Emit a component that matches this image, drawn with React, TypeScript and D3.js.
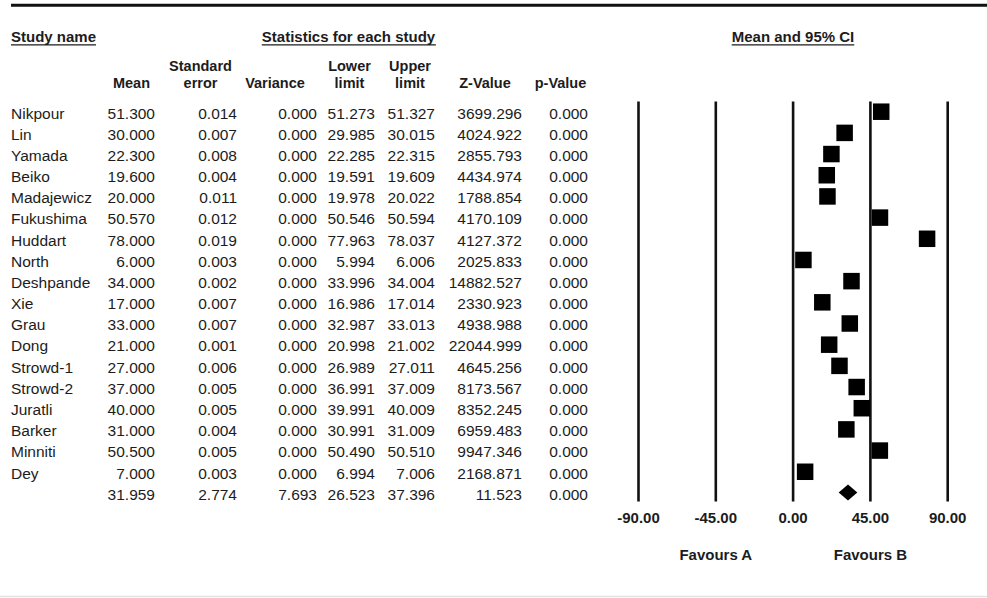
import React, { useEffect, useRef } from 'react';
import * as d3 from 'd3';

const studies = ['Nikpour', 'Lin', 'Yamada', 'Beiko', 'Madajewicz', 'Fukushima', 'Huddart', 'North', 'Deshpande', 'Xie', 'Grau', 'Dong', 'Strowd-1', 'Strowd-2', 'Juratli', 'Barker', 'Minniti', 'Dey'];
const means = [51.3, 30.0, 22.3, 19.6, 20.0, 50.57, 78.0, 6.0, 34.0, 17.0, 33.0, 21.0, 27.0, 37.0, 40.0, 31.0, 50.5, 7.0];
const stdErrors = [0.014, 0.007, 0.008, 0.004, 0.011, 0.012, 0.019, 0.003, 0.002, 0.007, 0.007, 0.001, 0.006, 0.005, 0.005, 0.004, 0.005, 0.003];
const variances = [0, 0, 0, 0, 0, 0, 0, 0, 0, 0, 0, 0, 0, 0, 0, 0, 0, 0];
const lowerLimits = [51.273, 29.985, 22.285, 19.591, 19.978, 50.546, 77.963, 5.994, 33.996, 16.986, 32.987, 20.998, 26.989, 36.991, 39.991, 30.991, 50.49, 6.994];
const upperLimits = [51.327, 30.015, 22.315, 19.609, 20.022, 50.594, 78.037, 6.006, 34.004, 17.014, 33.013, 21.002, 27.011, 37.009, 40.009, 31.009, 50.51, 7.006];
const zValues = [3699.296, 4024.922, 2855.793, 4434.974, 1788.854, 4170.109, 4127.372, 2025.833, 14882.527, 2330.923, 4938.988, 22044.999, 4645.256, 8173.567, 8352.245, 6959.483, 9947.346, 2168.871];
const pValues = [0, 0, 0, 0, 0, 0, 0, 0, 0, 0, 0, 0, 0, 0, 0, 0, 0, 0];

// pooled row
const summary = { mean: 31.959, se: 2.774, variance: 7.693, lower: 26.523, upper: 37.396, z: 11.523, p: 0.0 };

const xTicks = [-90, -45, 0, 45, 90];

const FONT = '"Liberation Sans", Arial, sans-serif';

const App: React.FC = () => {
  const svgRef = useRef<SVGSVGElement>(null);

  useEffect(() => {
    if (!svgRef.current) return;
    const svg = d3.select(svgRef.current);
    svg.selectAll('*').remove();

    const textColor = '#1c1c1c';
    const rowBase = 118.5;
    const rowStep = 21.18;
    const rowY = (i: number) => rowBase + i * rowStep;

    // top rule and bottom faint rule
    svg.append('line').attr('x1', 11).attr('x2', 987).attr('y1', 5.3).attr('y2', 5.3)
      .attr('stroke', '#111').attr('stroke-width', 3);
    svg.append('line').attr('x1', 0).attr('x2', 987).attr('y1', 596.5).attr('y2', 596.5)
      .attr('stroke', '#e2e2e2').attr('stroke-width', 1.5);

    // Section headers (underlined)
    const headers = [
      { text: 'Study name', x: 11, anchor: 'start' },
      { text: 'Statistics for each study', x: 348.5, anchor: 'middle' },
      { text: 'Mean and 95% CI', x: 793, anchor: 'middle' }
    ];
    headers.forEach(h => {
      const t = svg.append('text')
        .attr('x', h.x).attr('y', 42)
        .attr('text-anchor', h.anchor)
        .style('font-family', FONT).style('font-size', '15px').style('font-weight', 'bold')
        .style('fill', textColor)
        .text(h.text);
      const bb = (t.node() as SVGTextElement).getBBox();
      svg.append('line').attr('x1', bb.x).attr('x2', bb.x + bb.width)
        .attr('y1', 44.8).attr('y2', 44.8).attr('stroke', textColor).attr('stroke-width', 1.3);
    });

    // Column headers
    const colHeads = [
      { lines: ['Mean'], x: 131.5 },
      { lines: ['Standard', 'error'], x: 200.5 },
      { lines: ['Variance'], x: 275 },
      { lines: ['Lower', 'limit'], x: 349.5 },
      { lines: ['Upper', 'limit'], x: 410 },
      { lines: ['Z-Value'], x: 485 },
      { lines: ['p-Value'], x: 560.5 }
    ];
    colHeads.forEach(c => {
      c.lines.forEach((ln, k) => {
        const y = 88 - (c.lines.length - 1 - k) * 17;
        svg.append('text')
          .attr('x', c.x).attr('y', y).attr('text-anchor', 'middle')
          .style('font-family', FONT).style('font-size', '14.5px').style('font-weight', 'bold')
          .style('fill', textColor).text(ln);
      });
    });

    // Table body
    const colRight = [155, 237, 317, 375, 435, 522, 588];
    const cell = (x: number, y: number, s: string, anchor = 'end') => {
      svg.append('text').attr('x', x).attr('y', y).attr('text-anchor', anchor)
        .style('font-family', FONT).style('font-size', '15.5px')
        .style('fill', textColor).text(s);
    };
    studies.forEach((name, i) => {
      const y = rowY(i);
      cell(11, y, name, 'start');
      const vals = [means[i], stdErrors[i], variances[i], lowerLimits[i], upperLimits[i], zValues[i], pValues[i]];
      vals.forEach((v, j) => cell(colRight[j], y, v.toFixed(3)));
    });
    const sy = rowY(studies.length);
    [summary.mean, summary.se, summary.variance, summary.lower, summary.upper, summary.z, summary.p]
      .forEach((v, j) => cell(colRight[j], sy, v.toFixed(3)));

    // Forest plot
    const xScale = d3.scaleLinear().domain([-90, 90]).range([638.5, 947.7]);
    const plotTop = 101.5;
    const plotBottom = 501.5;

    xTicks.forEach(t => {
      svg.append('line')
        .attr('x1', xScale(t)).attr('x2', xScale(t))
        .attr('y1', plotTop).attr('y2', plotBottom)
        .attr('stroke', '#111').attr('stroke-width', 2.6);
      svg.append('text')
        .attr('x', xScale(t)).attr('y', 523).attr('text-anchor', 'middle')
        .style('font-family', FONT).style('font-size', '15px').style('font-weight', 'bold')
        .style('fill', textColor).text(t.toFixed(2));
    });

    // study squares
    const sq = 16.5;
    svg.append('g').selectAll('rect')
      .data(means)
      .join('rect')
      .attr('x', d => xScale(d) - sq / 2)
      .attr('y', (d, i) => rowY(i) - 6.8 - sq / 2)
      .attr('width', sq).attr('height', sq)
      .attr('fill', '#000');

    // CI whiskers (tiny here)
    svg.append('g').selectAll('line')
      .data(means)
      .join('line')
      .attr('x1', (d, i) => xScale(lowerLimits[i]))
      .attr('x2', (d, i) => xScale(upperLimits[i]))
      .attr('y1', (d, i) => rowY(i) - 6.8)
      .attr('y2', (d, i) => rowY(i) - 6.8)
      .attr('stroke', '#000').attr('stroke-width', 1);

    // summary diamond
    const dy = sy - 7.3;
    const dh = 8;
    svg.append('path')
      .attr('d', `M${xScale(summary.lower)},${dy} L${xScale(summary.mean)},${dy - dh} L${xScale(summary.upper)},${dy} L${xScale(summary.mean)},${dy + dh} Z`)
      .attr('fill', '#000');

    // Favours labels
    [{ text: 'Favours A', v: -45 }, { text: 'Favours B', v: 45 }].forEach(f => {
      svg.append('text')
        .attr('x', xScale(f.v)).attr('y', 560).attr('text-anchor', 'middle')
        .style('font-family', FONT).style('font-size', '15px').style('font-weight', 'bold')
        .style('fill', textColor).text(f.text);
    });
  }, []);

  return (
    <svg
      ref={svgRef}
      width={987}
      height={598}
      style={{ position: 'absolute', left: 0, top: 0, background: '#fff' }}
    />
  );
};

export default App;
